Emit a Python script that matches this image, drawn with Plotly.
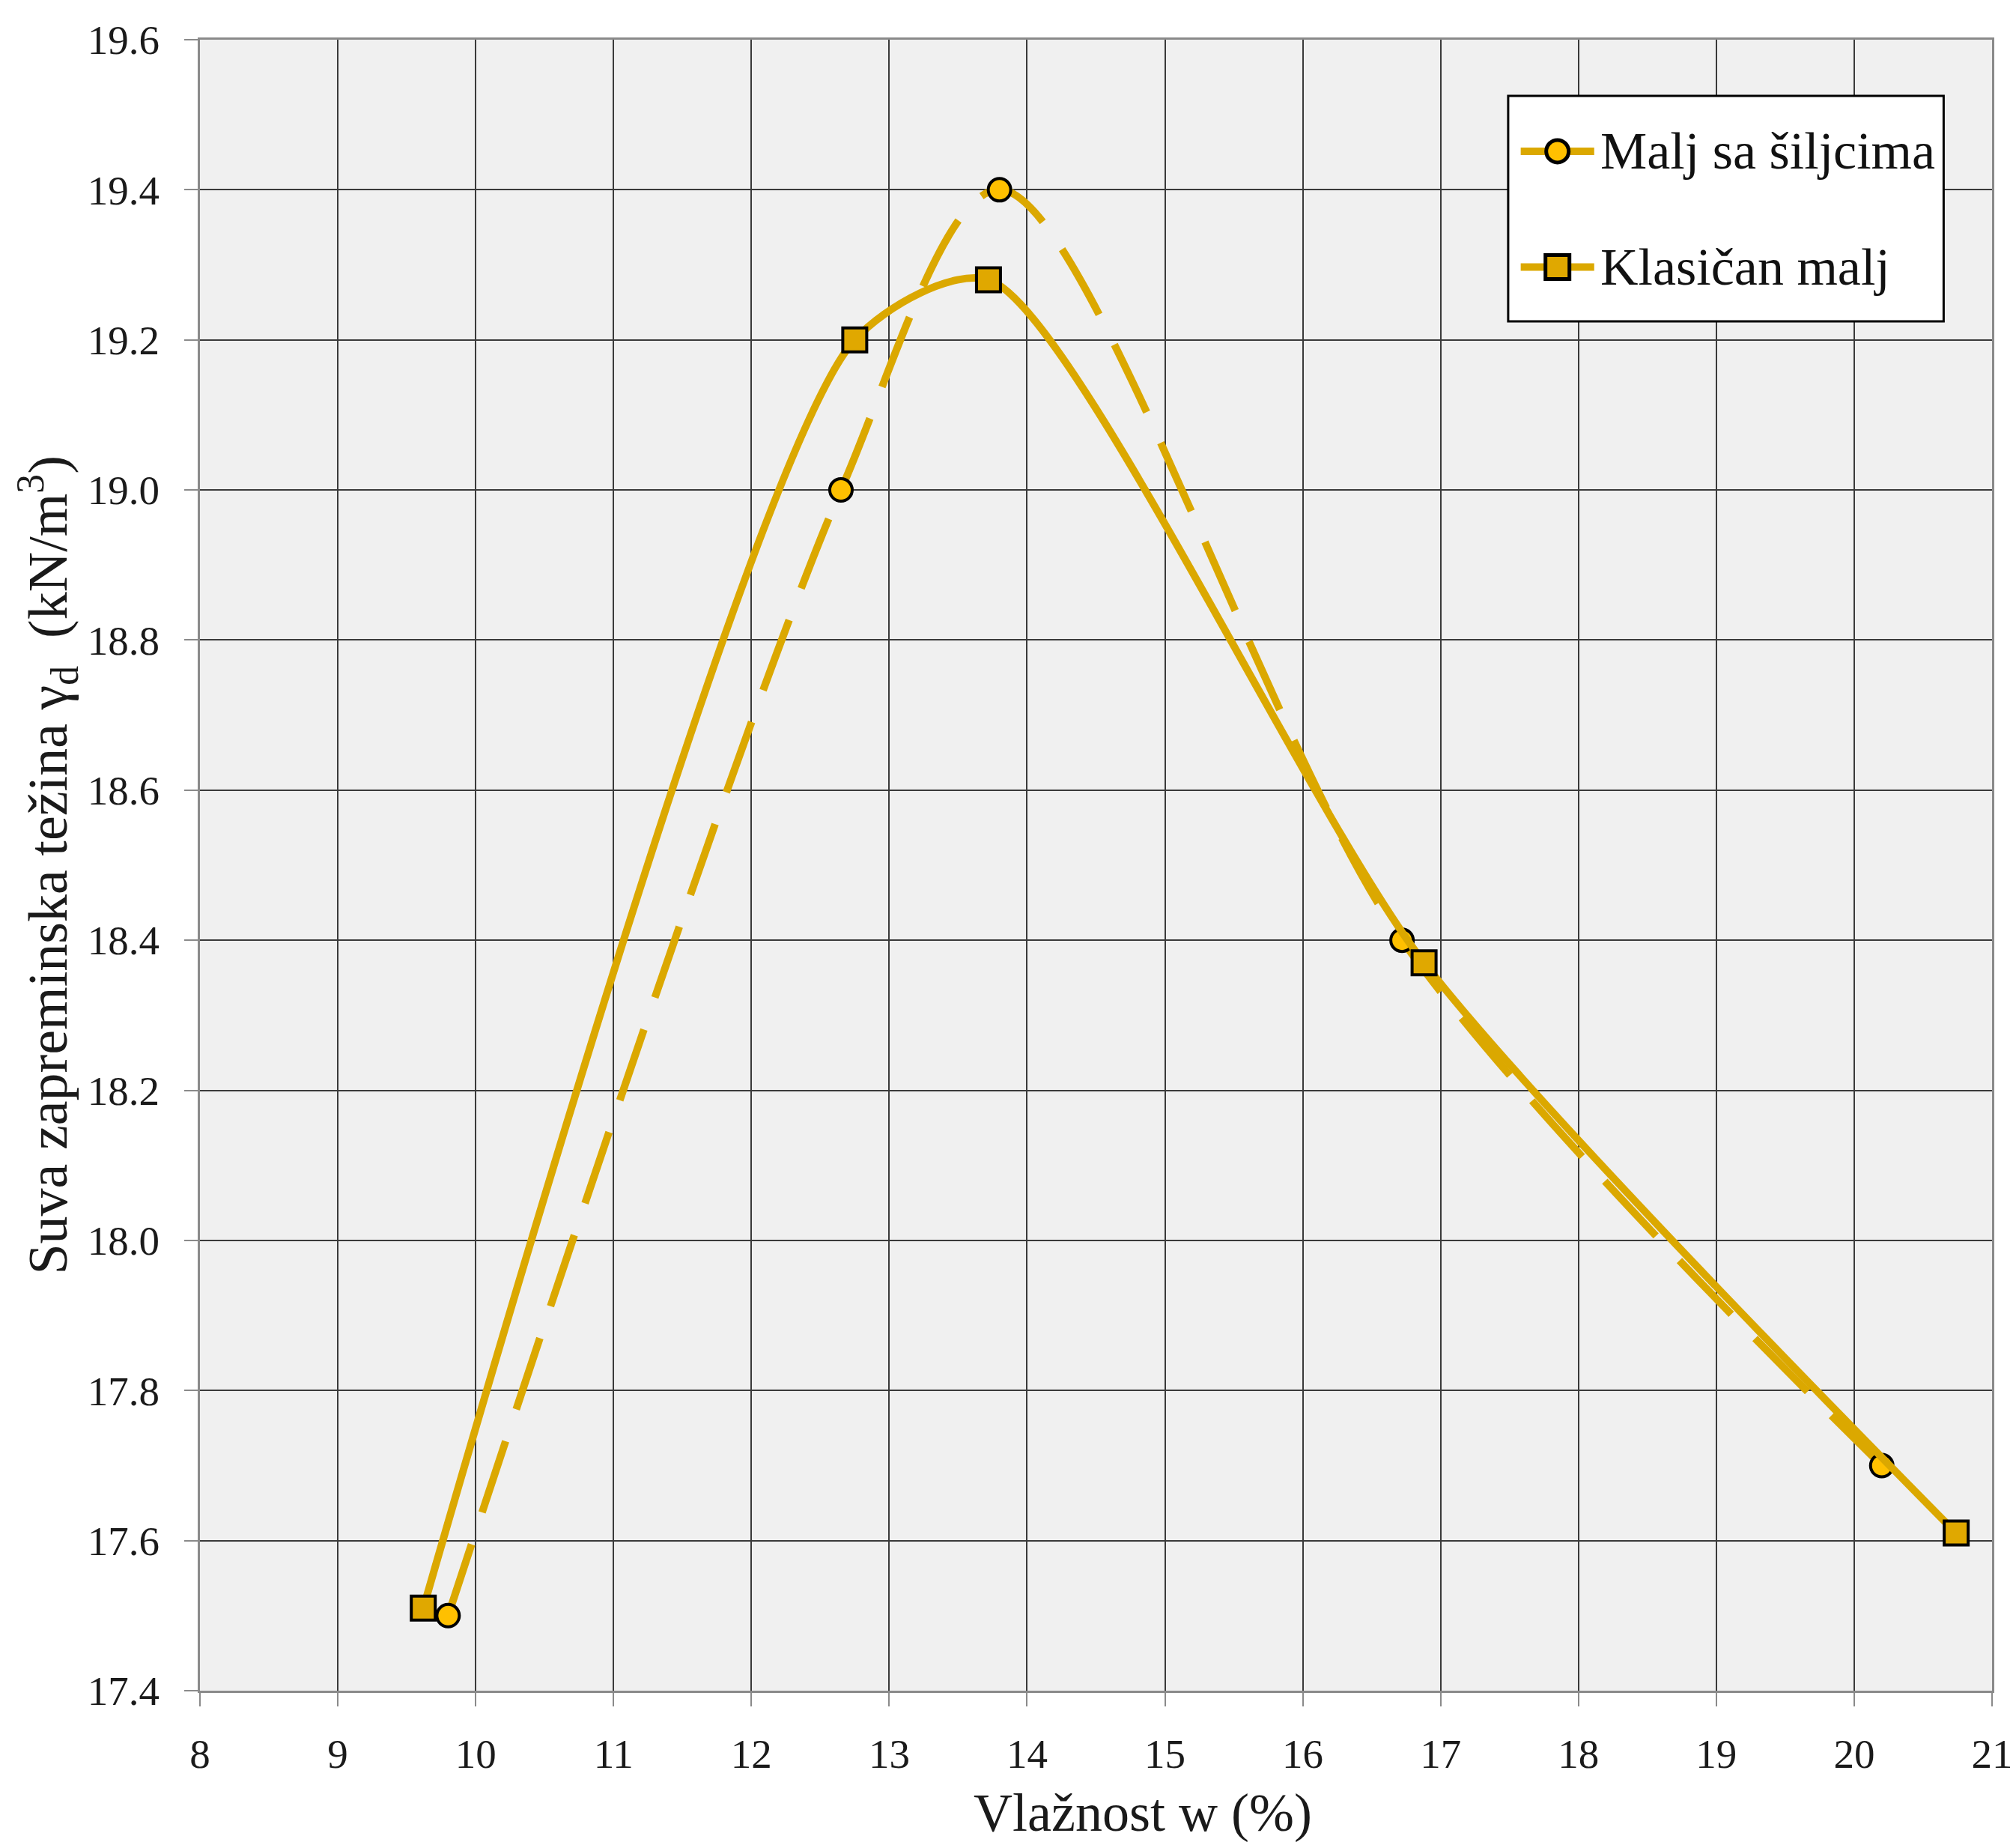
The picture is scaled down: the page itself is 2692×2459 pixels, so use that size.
import plotly.graph_objects as go

# Data
w_spikes = [9.80, 12.65, 13.80, 16.72, 20.20]
gd_spikes = [17.50, 19.00, 19.40, 18.40, 17.70]
w_classic = [9.62, 12.75, 13.72, 16.88, 20.74]
gd_classic = [17.51, 19.20, 19.28, 18.37, 17.61]
name_spikes = "Malj sa šiljcima"
name_classic = "Klasičan malj"
x_ticks = list(range(8, 22))
y_ticks = [17.4, 17.6, 17.8, 18.0, 18.2, 18.4, 18.6, 18.8, 19.0, 19.2, 19.4, 19.6]

LINE = "#DBA800"
FILL_CIRCLE = "#FFC000"
FILL_SQUARE = "#E0A800"
FONT = "Liberation Serif"

fig = go.Figure()
fig.add_trace(go.Scatter(
    x=w_spikes, y=gd_spikes, mode="lines+markers", showlegend=False,
    line=dict(color=LINE, width=10, dash="100px,45px", shape="spline", smoothing=0.85),
    marker=dict(symbol="circle", size=30, color=FILL_CIRCLE, line=dict(color="black", width=4)),
    name=name_spikes))
fig.add_trace(go.Scatter(
    x=w_classic, y=gd_classic, mode="lines+markers", showlegend=False,
    line=dict(color=LINE, width=10, shape="spline", smoothing=0.7),
    marker=dict(symbol="square", size=32, color=FILL_SQUARE, line=dict(color="black", width=4)),
    name=name_classic))

axis_common = dict(
    showgrid=True, gridcolor="#3a3a3a", gridwidth=2,
    showline=True, linecolor="#8a8a8a", linewidth=3, mirror=True,
    ticks="outside", ticklen=18, tickwidth=2, tickcolor="#8a8a8a",
    tickfont=dict(family=FONT, size=55, color="#1a1a1a"),
    zeroline=False,
)

fig.update_xaxes(range=[8, 21], tickvals=x_ticks, ticklabelstandoff=16, **axis_common)
fig.update_yaxes(range=[17.4, 19.6], tickvals=y_ticks, tickformat=".1f",
                 ticklabelstandoff=22, **axis_common)

# Manual legend (box, sample lines, symbols, labels)
lx0, lx1, ly0, ly1 = 0.730, 0.973, 0.8294, 0.966
items = [(0.9324, "circle", FILL_CIRCLE, 15, name_spikes),
         (0.8623, "square", FILL_SQUARE, 16, name_classic)]
shapes = [dict(type="rect", xref="paper", yref="paper", x0=lx0, x1=lx1, y0=ly0, y1=ly1,
               fillcolor="white", line=dict(color="black", width=3), layer="above")]
annotations = []
for yc, sym, fill, r, label in items:
    shapes.append(dict(type="line", xref="paper", yref="paper", x0=0.737, x1=0.778, y0=yc, y1=yc,
                       line=dict(color=LINE, width=10), layer="above"))
    shapes.append(dict(type="circle" if sym == "circle" else "rect",
                       xref="paper", yref="paper", xsizemode="pixel", ysizemode="pixel",
                       xanchor=0.7575, yanchor=yc, x0=-r, x1=r, y0=-r, y1=r,
                       fillcolor=fill, line=dict(color="black", width=5), layer="above"))
    annotations.append(dict(text=label, xref="paper", yref="paper", x=0.7805, y=yc,
                            xanchor="left", yanchor="middle", showarrow=False,
                            font=dict(family=FONT, size=70, color="#111111")))

annotations += [
    dict(text="Vlažnost w (%)", xref="paper", yref="paper",
         x=0.526, y=-0.074, xanchor="center", yanchor="middle",
         showarrow=False, font=dict(family=FONT, size=72, color="#1a1a1a")),
    dict(text="Suva zapreminska težina γ<sub>d</sub>  (kN/m<sup>3</sup>)",
         xref="paper", yref="paper", x=-0.085, y=0.5, textangle=-90,
         xanchor="center", yanchor="middle", showarrow=False,
         font=dict(family=FONT, size=74, color="#1a1a1a")),
]

fig.update_layout(
    width=2692, height=2459,
    margin=dict(l=259, r=29, t=45, b=210),
    paper_bgcolor="white", plot_bgcolor="#F0F0F0",
    font=dict(family=FONT, color="#1a1a1a"),
    showlegend=False,
    shapes=shapes,
    annotations=annotations,
)

fig.write_html("out.html")
